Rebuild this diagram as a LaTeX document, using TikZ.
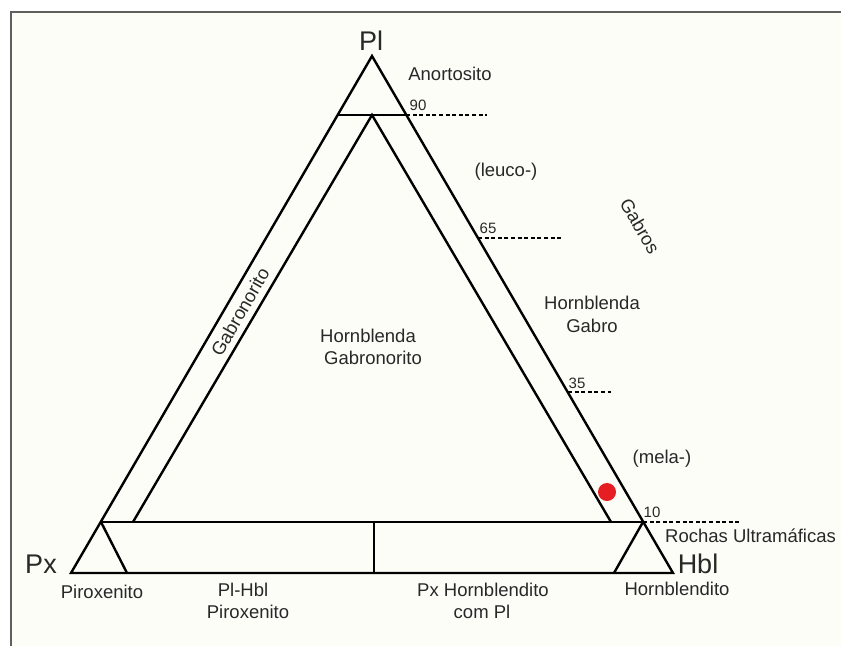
\documentclass[tikz,border=0pt]{standalone}
\usepackage{fontspec}
\setmainfont{Liberation Sans}
\definecolor{ink}{RGB}{40,40,40}
\definecolor{paper}{RGB}{253,253,248}
\definecolor{framegray}{RGB}{95,95,95}
\definecolor{sample}{RGB}{230,30,35}
\begin{document}
\begin{tikzpicture}[x=1pt,y=-1pt,
  edge/.style={line width=2.4pt,line join=miter},
  limit/.style={line width=2pt,dash pattern=on 4pt off 2.6pt},
  lbl/.style={inner sep=0pt,text=ink,font=\fontsize{18.5}{23}\selectfont,align=center},
  num/.style={inner sep=0pt,text=ink,font=\fontsize{15}{18}\selectfont},
  apexlbl/.style={inner sep=0pt,text=ink,font=\fontsize{27}{30}\selectfont}]
% page and frame
\useasboundingbox (0,0) rectangle (841,646);
\fill[white] (0,0) rectangle (841,646);
\fill[paper] (11,12) rectangle (841,646);
\draw[line width=1.4pt,framegray] (11,646) -- (11,12) -- (841,12);

% outer triangle
\coordinate (PL) at (372,56);
\coordinate (PX) at (71,573);
\coordinate (HB) at (673,573);
% 90 % plagioclase line
\coordinate (n90L) at (338,115);
\coordinate (n90R) at (406,115);
% 10 % plagioclase line
\coordinate (n10L) at (101,522);
\coordinate (n10R) at (643,522);
% inner triangle
\coordinate (IA) at (372,115);
\coordinate (IL) at (133,522);
\coordinate (IR) at (611,522);
% ultramafic subdivisions
\coordinate (pxR) at (127,573);
\coordinate (hbL) at (614,573);
\coordinate (midT) at (374,522);
\coordinate (midB) at (374,573);
% dashed limits
\coordinate (n65) at (478,238);
\coordinate (n35) at (568,392);
\coordinate (e90) at (487,115);
\coordinate (e65) at (563,238);
\coordinate (e35) at (611,392);
\coordinate (e10) at (740,522);

\draw[edge] (PX) -- (PL) -- (HB) -- cycle;
\draw[edge] (n90L) -- (n90R);
\draw[edge] (n10L) -- (n10R);
\draw[edge] (IL) -- (IA) -- (IR);
\draw[edge] (n10L) -- (pxR);
\draw[edge] (n10R) -- (hbL);
\draw[edge] (midT) -- (midB);

\draw[limit] (n90R) -- (e90);
\draw[limit] (n65) -- (e65);
\draw[limit] (n35) -- (e35);
\draw[limit] (n10R) -- (e10);

% sample
\fill[sample] (607,492) circle (9pt);

% apex labels
\node[apexlbl,anchor=base] (tPl) at (371,50) {Pl};
\node[apexlbl,anchor=base] (tPx) at (41,573) {Px};
\node[apexlbl,anchor=base] (tHbl) at (698,573) {Hbl};

% percentage marks
\node[num,anchor=base] (t90) at (418,110) {90};
\node[num,anchor=base] (t65) at (488,233) {65};
\node[num,anchor=base] (t35) at (577,388) {35};
\node[num,anchor=base] (t10) at (652,517) {10};

% field names
\node[lbl,anchor=base] (tAn) at (450,80) {Anortosito};
\node[lbl,anchor=base] (tLeu) at (506,176) {(leuco-)};
\node[lbl,rotate=-60] (tGab) at (640,226) {Gabros};
\node[lbl,anchor=base] (tHG1) at (592,309) {Hornblenda};
\node[lbl,anchor=base] (tHG2) at (592,332) {Gabro};
\node[lbl,anchor=base] (tMel) at (662,463) {(mela-)};
\node[lbl,anchor=base west] (tRU) at (665,542) {Rochas Ultramáficas};
\node[lbl,anchor=base] (tHbd) at (677,595) {Hornblendito};
\node[lbl,anchor=base] (tPir) at (102,598) {Piroxenito};
\node[lbl,anchor=base] (tPH1) at (243,596) {Pl-Hbl};
\node[lbl,anchor=base] (tPH2) at (248,618) {Piroxenito};
\node[lbl,anchor=base] (tPxH1) at (483,596) {Px Hornblendito};
\node[lbl,anchor=base] (tPxH2) at (482,618) {com Pl};
\node[lbl,anchor=base] (tHGn1) at (368,342) {Hornblenda};
\node[lbl,anchor=base] (tHGn2) at (373,364) {Gabronorito};
\node[lbl,rotate=60] (tGn) at (240,312) {Gabronorito};
\end{tikzpicture}
\end{document}
